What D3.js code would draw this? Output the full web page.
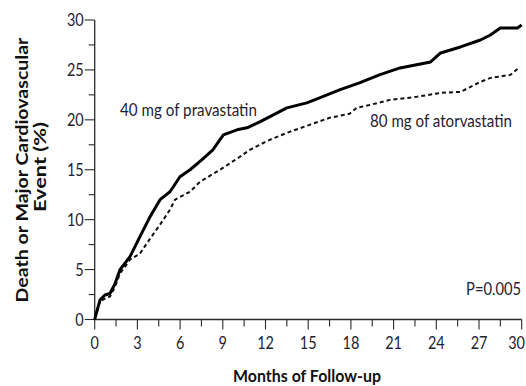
<!DOCTYPE html>
<html>
<head>
<meta charset="utf-8">
<script src="https://cdn.jsdelivr.net/npm/d3@7"></script>
<style>
  html, body { margin: 0; padding: 0; background: #ffffff; }
  svg { display: block; }
  .tick-label { font-family: Lato, "Noto Sans", sans-serif; font-size: 17px; fill: #1d2230; }
  .note { font-family: Lato, "Noto Sans", sans-serif; font-size: 17px; fill: #1d2230; }
  .title { font-family: Lato, "Noto Sans", sans-serif; font-weight: 700; font-size: 17.5px; fill: #111; }
</style>
</head>
<body>
<svg id="chart" width="526" height="386"></svg>
<script>
// Cumulative incidence of death or major cardiovascular event (%), by month
const pravaMonths = [0, 0.05, 0.37, 0.72, 1.07, 1.43, 1.78, 2.48, 3.18, 3.89, 4.59, 5.29, 5.99, 6.7, 7.52, 8.3, 9.04, 10.0, 10.7, 11.6, 12.55, 13.5, 14.9, 15.8, 17.2, 18.6, 20.0, 21.45, 23.6, 24.3, 25.7, 27.1, 27.8, 28.5, 29.7, 30.0];
const pravaValues = [0, 0.3, 1.95, 2.45, 2.6, 3.6, 5.0, 6.3, 8.3, 10.3, 12.0, 12.8, 14.3, 15.0, 16.0, 17.0, 18.5, 19.0, 19.2, 19.8, 20.5, 21.2, 21.7, 22.2, 23.0, 23.7, 24.5, 25.2, 25.8, 26.7, 27.3, 28.0, 28.5, 29.2, 29.2, 29.5];

const atorMonths = [0, 0.05, 0.37, 0.72, 1.07, 1.43, 1.78, 2.48, 3.18, 3.89, 4.59, 5.29, 5.64, 6.7, 7.4, 8.8, 10.2, 10.9, 12.3, 13.7, 15.1, 16.5, 17.9, 18.4, 19.35, 20.75, 22.6, 24.3, 25.7, 27.1, 27.8, 29.2, 29.8];
const atorValues = [0, 0.3, 1.8, 2.1, 2.3, 3.3, 4.6, 6.0, 6.6, 8.1, 9.5, 11.0, 12.0, 12.8, 13.8, 15.0, 16.3, 17.0, 18.0, 18.8, 19.5, 20.2, 20.6, 21.2, 21.5, 22.0, 22.3, 22.7, 22.8, 23.8, 24.2, 24.5, 25.2];

const xTicks = [0, 3, 6, 9, 12, 15, 18, 21, 24, 27, 30];
const yTicks = [0, 5, 10, 15, 20, 25, 30];

const svg = d3.select("#chart");
const plotLeft = 94.7, plotRight = 521.7, plotTop = 20, plotBottom = 319.5;

const x = d3.scaleLinear().domain([0, 30]).range([plotLeft, plotRight]);
const y = d3.scaleLinear().domain([0, 30]).range([plotBottom, plotTop]);

const axisColor = "#2a2a2a";
const tickSqueeze = 0.85; // condensed numerals

// Y axis: major ticks every 5, minor every 2.5
const yAxis = svg.append("g").attr("transform", `translate(${plotLeft},0)`);
yAxis.append("line").attr("y1", y(0)).attr("y2", y(30)).attr("stroke", axisColor).attr("stroke-width", 1.3);
yAxis.selectAll("line.minor").data(d3.range(2.5, 30, 5)).join("line")
  .attr("class", "minor").attr("x1", -6).attr("x2", 0)
  .attr("y1", d => y(d)).attr("y2", d => y(d)).attr("stroke", axisColor).attr("stroke-width", 1.1);
yAxis.selectAll("line.major").data(yTicks).join("line")
  .attr("class", "major").attr("x1", -10).attr("x2", 0)
  .attr("y1", d => y(d)).attr("y2", d => y(d)).attr("stroke", axisColor).attr("stroke-width", 1.1);
yAxis.selectAll("g.tl").data(yTicks).join("g").attr("class", "tl")
  .attr("transform", d => `translate(-11,${y(d)}) scale(${tickSqueeze},1)`)
  .append("text").attr("class", "tick-label").attr("dy", "0.36em")
  .attr("text-anchor", "end").text(d => d);

// X axis: major ticks every 3 months, minor every 1.5
const xAxis = svg.append("g").attr("transform", `translate(0,${plotBottom})`);
xAxis.append("line").attr("x1", x(0)).attr("x2", x(30)).attr("stroke", axisColor).attr("stroke-width", 1.3);
xAxis.selectAll("line.minor").data(d3.range(1.5, 30, 3)).join("line")
  .attr("class", "minor").attr("y1", 0).attr("y2", 7)
  .attr("x1", d => x(d)).attr("x2", d => x(d)).attr("stroke", axisColor).attr("stroke-width", 1.1);
xAxis.selectAll("line.major").data(xTicks).join("line")
  .attr("class", "major").attr("y1", 0).attr("y2", 10)
  .attr("x1", d => x(d)).attr("x2", d => x(d)).attr("stroke", axisColor).attr("stroke-width", 1.1);
// last label sits against the right edge, so anchor it at its end
xAxis.selectAll("g.tl").data(xTicks).join("g").attr("class", "tl")
  .attr("transform", d => `translate(${d === 30 ? 525 : x(d)},29) scale(${tickSqueeze},1)`)
  .append("text").attr("class", "tick-label")
  .attr("text-anchor", d => d === 30 ? "end" : "middle").text(d => d);

// Curves
const line = d3.line().x(d => x(d[0])).y(d => y(d[1]));
const atorData = d3.zip(atorMonths, atorValues);
const pravaData = d3.zip(pravaMonths, pravaValues);

svg.append("path").datum(atorData).attr("d", line)
  .attr("fill", "none").attr("stroke", "#111").attr("stroke-width", 2)
  .attr("stroke-dasharray", "4,3");
svg.append("path").datum(pravaData).attr("d", line)
  .attr("fill", "none").attr("stroke", "#000").attr("stroke-width", 3)
  .attr("stroke-linejoin", "round");

// Text squeezed horizontally to a given width (condensed face)
function fitted(parent, cls, tx, ty, txt, width, anchor, rotate) {
  const g = parent.append("g");
  const t = g.append("text").attr("class", cls).attr("text-anchor", anchor || "start").text(txt);
  const sx = width / t.node().getComputedTextLength();
  g.attr("transform", `translate(${tx},${ty})${rotate ? " rotate(" + rotate + ")" : ""} scale(${sx},1)`);
  return g;
}

// Series labels and P value
fitted(svg, "note", 120, 116, "40 mg of pravastatin", 137);
fitted(svg, "note", 370, 127, "80 mg of atorvastatin", 142);
fitted(svg, "note", 521, 295, "P=0.005", 55, "end");

// Axis titles
fitted(svg, "title", 307, 382, "Months of Follow-up", 148, "middle");
fitted(svg, "title", 28, 170, "Death or Major Cardiovascular", 265, "middle", -90);
fitted(svg, "title", 46, 167, "Event (%)", 90, "middle", -90);
</script>
</body>
</html>
